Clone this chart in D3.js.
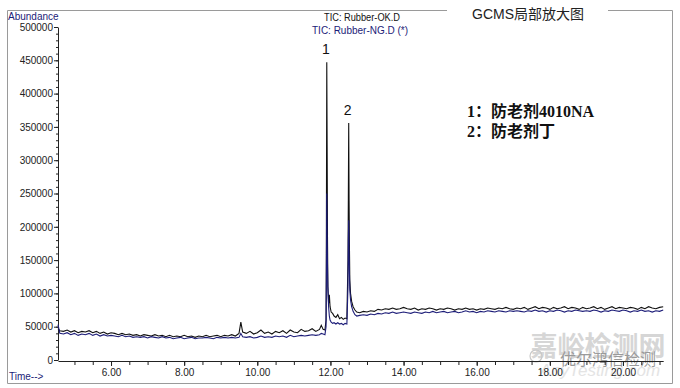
<!DOCTYPE html>
<html><head><meta charset="utf-8">
<script src="https://cdn.jsdelivr.net/npm/d3@7/dist/d3.min.js"></script>
<style>
html,body{margin:0;padding:0;background:#fff;}
svg{display:block;}
</style></head>
<body>
<svg id="chart" width="680" height="388"></svg>
<script>
// ---- data (abundance in thousands) ----
const time = [
 4.55,4.60,4.70,4.80,4.90,5.00,5.10,5.20,5.30,5.40,
 5.50,5.60,5.70,5.80,5.90,6.00,6.10,6.20,6.30,6.40,
 6.50,6.60,6.70,6.80,6.90,7.00,7.10,7.20,7.30,7.40,
 7.50,7.60,7.70,7.80,7.90,8.00,8.10,8.20,8.30,8.40,
 8.50,8.60,8.70,8.80,8.90,9.00,9.10,9.20,9.30,9.40,
 9.50,9.55,9.60,9.70,9.80,9.90,10.00,10.10,10.20,10.30,
 10.40,10.50,10.60,10.70,10.80,10.90,11.00,11.10,11.20,11.30,
 11.40,11.50,11.60,11.70,11.75,11.80,11.85,11.88,11.89,11.90,
 11.91,11.92,11.93,11.95,11.97,11.99,12.02,12.06,12.10,12.15,
 12.20,12.25,12.30,12.35,12.40,12.45,12.48,12.49,12.50,12.51,
 12.52,12.53,12.55,12.58,12.62,12.67,12.72,12.80,12.90,13.00,
 13.10,13.20,13.30,13.40,13.50,13.60,13.70,13.80,13.90,14.00,
 14.10,14.20,14.30,14.40,14.50,14.60,14.70,14.80,14.90,15.00,
 15.10,15.20,15.30,15.40,15.50,15.60,15.70,15.80,15.90,16.00,
 16.10,16.20,16.30,16.40,16.50,16.60,16.70,16.80,16.90,17.00,
 17.10,17.20,17.30,17.40,17.50,17.60,17.70,17.80,17.90,18.00,
 18.10,18.20,18.30,18.40,18.50,18.60,18.70,18.80,18.90,19.00,
 19.10,19.20,19.30,19.40,19.50,19.60,19.70,19.80,19.90,20.00,
 20.10,20.20,20.30,20.40,20.50,20.60,20.70,20.80,20.90,21.00,
 21.10
];
const okSeries = [
 47,44,43,45,42,44,41,43,42,44,
 41,43,40,42,39,41,40,38,40,38,
 39,37,38,36,38,37,36,38,36,37,
 35,37,35,36,35,37,35,36,34,36,
 35,37,35,36,37,35,37,36,38,36,
 40,57,42,40,43,39,41,45,40,42,
 39,43,41,44,40,45,42,41,46,43,
 44,47,43,46,52,46,45,60,200,447,
 320,180,110,85,98,80,72,70,66,64,
 68,62,64,61,63,62,150,243,356,240,
 170,120,100,88,80,75,72,71,73,72,
 74,73,76,75,77,76,78,76,77,79,
 77,76,78,75,77,76,78,77,75,77,
 76,78,77,75,77,76,78,76,77,75,
 77,76,78,77,76,78,77,79,77,76,
 78,77,79,76,78,80,77,79,78,76,
 79,77,78,80,77,79,78,76,79,77,
 78,80,77,79,76,78,80,77,79,78,
 77,79,78,76,79,77,80,78,77,79,
 80
];
const ngSeries = [
 53,40,39,41,38,40,37,39,38,40,
 37,39,36,38,36,37,36,35,37,35,
 36,34,35,34,35,33,35,34,33,35,
 33,34,32,33,34,32,33,34,32,33,
 33,34,33,32,34,33,34,33,34,33,
 34,40,35,34,35,33,34,36,34,35,
 34,36,35,36,34,37,35,36,37,36,
 37,38,37,38,40,39,38,50,120,250,
 180,140,110,80,66,60,57,55,56,54,
 56,54,55,53,55,54,110,180,210,160,
 130,105,90,80,73,68,66,67,68,67,
 69,68,70,69,71,70,72,70,71,72,
 71,70,72,71,70,72,71,73,71,72,
 73,71,72,73,71,72,74,72,73,71,
 73,72,74,73,72,74,73,72,74,73,
 74,73,72,74,73,75,73,74,72,74,
 73,75,74,72,74,73,75,74,73,74,
 73,75,74,72,74,73,75,74,73,75,
 74,72,74,73,75,73,74,72,74,73,
 75
];
const yTickValues = [0,50000,100000,150000,200000,250000,300000,350000,400000,450000,500000];
const xLabelValues = [6,8,10,12,14,16,18,20];
const seriesNames = ["TIC: Rubber-OK.D", "TIC: Rubber-NG.D (*)"];
const peakLabels = [{label:"1", t:11.90, v:447}, {label:"2", t:12.50, v:356}];
const compoundNotes = ["1：防老剂4010NA", "2：防老剂丁"];
const chartTitle = "GCMS局部放大图";

// ---- drawing ----
const svg = d3.select("#chart");
const NAVY = "#1c1c78";
const x = d3.scaleLinear().domain([4.55, 21.1]).range([58, 663.2]);
const y = d3.scaleLinear().domain([0, 500000]).range([360, 27]);

// outer frame with gap for title
const fr = {l:7.5, t:10.5, r:672.5, b:383.5};
svg.append("path")
  .attr("d", `M447,${fr.t}H${fr.l}V${fr.b}H${fr.r}V${fr.t}H608`)
  .attr("fill","none").attr("stroke","#9a9a9a").attr("stroke-width",1);

svg.append("text").attr("x",528).attr("y",19).attr("text-anchor","middle")
  .attr("font-family","'Liberation Sans','Noto Sans CJK SC',sans-serif")
  .attr("font-size",14).attr("fill","#222").text(chartTitle);

// watermark
const wm = svg.append("g").attr("pointer-events","none");
wm.append("text").attr("x",598).attr("y",356).attr("text-anchor","middle")
  .attr("font-family","'Noto Sans CJK SC',sans-serif").attr("font-size",27)
  .attr("fill","#d6d6d6").attr("font-weight",700).text("嘉峪检测网");
wm.append("text").attr("x",600).attr("y",376).attr("text-anchor","middle")
  .attr("font-family","'Liberation Sans',sans-serif").attr("font-style","italic")
  .attr("font-size",17).attr("fill","#e4e4e4").text("AnyTesting.com");
wm.append("circle").attr("cx",536).attr("cy",356).attr("r",6)
  .attr("fill","none").attr("stroke","#c8c8c8").attr("stroke-width",1.2);
wm.append("text").attr("x",608).attr("y",365).attr("text-anchor","middle")
  .attr("font-family","'Noto Sans CJK SC',sans-serif").attr("font-size",16)
  .attr("fill","#9a9a9a").text("优尔鸿信检测");

// y axis
const fmt = d3.format("d");
const yMinor = svg.append("g").attr("transform","translate(58,0)")
  .call(d3.axisLeft(y).tickValues(d3.range(0,500001,10000)).tickSize(2).tickSizeOuter(0).tickFormat(""));
yMinor.select(".domain").remove();
const yAxis = svg.append("g").attr("transform","translate(58,0)")
  .call(d3.axisLeft(y).tickValues(yTickValues).tickSize(4).tickSizeOuter(0).tickFormat(fmt).tickPadding(1));
yAxis.selectAll("text").attr("font-family","'Liberation Sans',Arial,sans-serif").attr("font-size",10).attr("fill","#222");
svg.selectAll(".tick line").attr("stroke","#222");
yAxis.select(".domain").attr("stroke","#222");

// x axis
const xMinor = svg.append("g").attr("transform","translate(0,361)")
  .call(d3.axisBottom(x).tickValues(d3.range(5,21.01,0.5)).tickSize(4).tickSizeOuter(0).tickFormat(""));
xMinor.select(".domain").attr("stroke","#222");
xMinor.selectAll(".tick line").attr("stroke","#222");
const xAxis = svg.append("g").attr("transform","translate(0,361)")
  .call(d3.axisBottom(x).tickValues(xLabelValues).tickSize(5).tickSizeOuter(0).tickFormat(d3.format(".2f")).tickPadding(3));
xAxis.select(".domain").remove();
xAxis.selectAll(".tick line").attr("stroke","#222");
xAxis.selectAll("text").attr("font-family","'Liberation Sans',Arial,sans-serif").attr("font-size",10).attr("fill","#222");

svg.append("text").attr("x",9).attr("y",380).attr("font-family","'Liberation Sans',Arial,sans-serif")
  .attr("font-size",10).attr("fill",NAVY).text("Time-->");
svg.append("text").attr("x",8).attr("y",20).attr("font-family","'Liberation Sans',Arial,sans-serif")
  .attr("font-size",10).attr("fill",NAVY).text("Abundance");

// series lines
const mk = vals => d3.line().x((d,i)=>x(time[i])).y(d=>y(d*1000))(vals);
svg.append("path").attr("d", mk(okSeries)).attr("fill","none").attr("stroke","#111").attr("stroke-width",1.1);
svg.append("path").attr("d", mk(ngSeries)).attr("fill","none").attr("stroke",NAVY).attr("stroke-width",1.1);

// legend
svg.append("text").attr("x",362).attr("y",21).attr("text-anchor","middle")
  .attr("font-family","'Liberation Sans',Arial,sans-serif").attr("font-size",10)
  .attr("textLength",76).attr("lengthAdjust","spacingAndGlyphs").attr("fill","#111").text(seriesNames[0]);
svg.append("text").attr("x",360).attr("y",34).attr("text-anchor","middle")
  .attr("font-family","'Liberation Sans',Arial,sans-serif").attr("font-size",10)
  .attr("textLength",96).attr("lengthAdjust","spacingAndGlyphs").attr("fill",NAVY).text(seriesNames[1]);

// peak labels
svg.selectAll(".pk").data(peakLabels).enter().append("text")
  .attr("x",d=>x(d.t)-1).attr("y",d=>y(d.v*1000)-8).attr("text-anchor","middle")
  .attr("font-family","'Liberation Sans',Arial,sans-serif").attr("font-size",14).attr("fill","#111")
  .text(d=>d.label);

// compound notes
svg.selectAll(".note").data(compoundNotes).enter().append("text")
  .attr("x",467).attr("y",(d,i)=>117+i*20)
  .attr("font-family","'Liberation Serif','Noto Sans CJK SC',serif").attr("font-weight",700)
  .attr("font-size",16).attr("fill","#111").text(d=>d);
</script>
</body></html>
